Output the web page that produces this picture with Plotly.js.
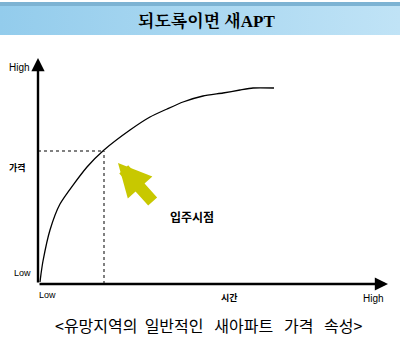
<!DOCTYPE html>
<html><head><meta charset="utf-8">
<script src="https://cdn.plot.ly/plotly-3.0.1.min.js"></script>
<style>
html,body{margin:0;padding:0;background:#fff;}
#wrap{position:relative;width:400px;height:338px;}
#stripe{position:absolute;left:0;top:2px;width:400px;height:4px;background:#7db3d3;}
#banner{position:absolute;left:0;top:6px;width:400px;height:29px;background:linear-gradient(to right,#93ccec,#c0e3f6);}
#chart{position:absolute;left:0;top:0;width:400px;height:338px;}
</style></head>
<body><div id="wrap"><div id="stripe"></div><div id="banner"></div><div id="chart"></div></div>
<script>
// conceptual data (time vs price)
const timeVals  = [2, 3, 5, 12, 22, 49, 66, 92, 112, 129, 145, 165, 185, 202, 215, 236];
const priceVals = [2, 10, 23, 54, 80, 117, 134, 154, 167, 175, 182, 188, 191, 194, 196, 196];
const moveInTime = 66, moveInPrice = 133;
const xMax = 350, yMax = 226;
const titleText = '되도록이면 새APT';
const captionText = '<유망지역의\u00a0\u00a0일반적인\u00a0\u00a0\u00a0새아파트\u00a0\u00a0\u00a0가격\u00a0\u00a0\u00a0속성>';

const lab = (text, x, y, size, bold, xanchor, xref, yref) => ({
  text: bold ? '<b>'+text+'</b>' : text, x, y, xref: xref||'paper', yref: yref||'paper',
  showarrow:false, xanchor: xanchor||'center', yanchor:'middle',
  font:{family:'Liberation Sans, Noto Sans CJK KR', size, color:'#000'}
});

const traces = [
  {x:[0,moveInTime], y:[moveInPrice,moveInPrice], mode:'lines', line:{color:'#808080', width:2, dash:'dot'}, hoverinfo:'skip'},
  {x:[moveInTime,moveInTime], y:[0,moveInPrice], mode:'lines', line:{color:'#808080', width:2, dash:'dot'}, hoverinfo:'skip'},
  {x:timeVals, y:priceVals, mode:'lines', line:{color:'#000', width:1.3, shape:'spline', smoothing:0.6}, hoverinfo:'skip'}
];

const W=400,H=338,L=37.5,R=12,T=58,B=54;
const px = v => (v - L)/(W-L-R);
const py = v => (H-B - v)/(H-T-B);

const layout = {
  width:W, height:H, margin:{l:L,r:R,t:T,b:B},
  paper_bgcolor:'rgba(0,0,0,0)', plot_bgcolor:'rgba(0,0,0,0)',
  showlegend:false,
  xaxis:{range:[0,xMax], visible:false, fixedrange:true},
  yaxis:{range:[0,yMax], visible:false, fixedrange:true},
  annotations:[
    {x:0, y:yMax, ax:0, ay:0, xref:'x', yref:'y', axref:'x', ayref:'y', showarrow:true, arrowhead:2, arrowsize:1.1, arrowwidth:2.4, arrowcolor:'#000', text:''},
    {x:xMax, y:0, ax:0, ay:0, xref:'x', yref:'y', axref:'x', ayref:'y', showarrow:true, arrowhead:2, arrowsize:1.1, arrowwidth:2.4, arrowcolor:'#000', text:''},
    {x:80, y:121, ax:36, ay:40, xref:'x', yref:'y', showarrow:true, arrowhead:2, arrowsize:0.55, arrowwidth:12, arrowcolor:'#c8c800', text:''},
    Object.assign(lab(titleText, px(206), py(21), 17, true), {font:{family:'Liberation Serif, Noto Serif CJK KR, Noto Sans CJK KR', size:17, color:'#000'}}),
    lab('High', px(19), py(68), 10, false),
    lab('가격', px(17), py(167), 9, true),
    lab('Low', px(22), py(273), 9, false),
    lab('Low', px(47), py(295), 9, false),
    lab('시간', px(229), py(298), 9, true),
    lab('High', px(373), py(298), 10, false),
    lab('입주시점', px(192), py(218), 12, true),
    Object.assign(lab(captionText, px(209), py(325), 16, false), {font:{family:'Noto Sans CJK KR', size:16, color:'#000'}})
  ]
};
Plotly.newPlot('chart', traces, layout, {staticPlot:true});
</script></body></html>
